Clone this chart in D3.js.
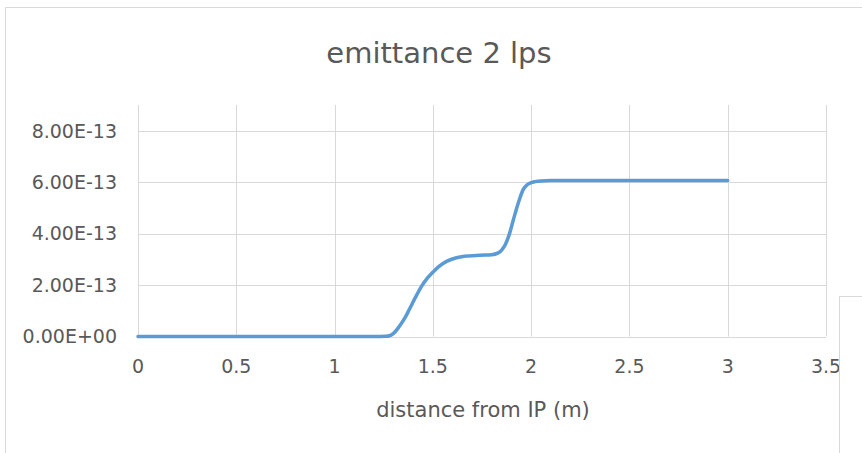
<!DOCTYPE html>
<html><head><meta charset="utf-8">
<script src="https://cdn.jsdelivr.net/npm/d3@7"></script>
<style>
html,body{margin:0;padding:0;background:#fff;}
svg{display:block;}
text{font-family:"DejaVu Sans",sans-serif;fill:#595959;}
</style></head>
<body>
<svg id="chart" width="862" height="453"></svg>
<script>
const chartTitle = "emittance 2 lps";
const xAxisTitle = "distance from IP (m)";
const xTicks = [0, 0.5, 1, 1.5, 2, 2.5, 3, 3.5];
const yTicks = [0, 2e-13, 4e-13, 6e-13, 8e-13];
const yTickLabels = ["0.00E+00", "2.00E-13", "4.00E-13", "6.00E-13", "8.00E-13"];
const distance = [0, 0.25, 0.5, 0.75, 1.0, 1.2, 1.26, 1.28, 1.3, 1.33, 1.36, 1.38, 1.41, 1.44, 1.47, 1.5, 1.53, 1.57, 1.62, 1.66, 1.74, 1.8, 1.83, 1.85, 1.87, 1.89, 1.91, 1.935, 1.96, 1.98, 2.0, 2.02, 2.05, 2.1, 2.2, 2.5, 2.75, 3.0];
const emittance = [0, 0, 0, 0, 0, 0.002e-13, 0.01e-13, 0.03e-13, 0.12e-13, 0.4e-13, 0.75e-13, 1.05e-13, 1.5e-13, 1.92e-13, 2.25e-13, 2.5e-13, 2.72e-13, 2.92e-13, 3.06e-13, 3.12e-13, 3.16e-13, 3.18e-13, 3.24e-13, 3.36e-13, 3.6e-13, 4.0e-13, 4.55e-13, 5.2e-13, 5.72e-13, 5.9e-13, 5.98e-13, 6.02e-13, 6.05e-13, 6.06e-13, 6.06e-13, 6.06e-13, 6.06e-13, 6.06e-13];

const svg = d3.select("#chart");
const W = 862, H = 453;
const plot = {left: 138, right: 826, top: 105, bottom: 336.5};

// outer frame
svg.append("path").attr("d", `M5.5,${H} L5.5,7.5 L${W},7.5`)
  .attr("fill","none").attr("stroke","#d9d9d9").attr("stroke-width",1);

const x = d3.scaleLinear().domain([0, 3.5]).range([plot.left, plot.right]);
const y = d3.scaleLinear().domain([0, 9e-13]).range([plot.bottom, plot.top]);

const g = svg.append("g");
// horizontal gridlines
g.selectAll(".hg").data(yTicks).enter().append("line")
  .attr("x1", plot.left).attr("x2", plot.right)
  .attr("y1", d => Math.round(y(d)) + 0.5).attr("y2", d => Math.round(y(d)) + 0.5)
  .attr("stroke", "#d9d9d9").attr("stroke-width", 1);
// vertical gridlines
g.selectAll(".vg").data(xTicks).enter().append("line")
  .attr("x1", d => Math.round(x(d)) + 0.5).attr("x2", d => Math.round(x(d)) + 0.5)
  .attr("y1", plot.top).attr("y2", plot.bottom)
  .attr("stroke", "#d9d9d9").attr("stroke-width", 1);

// y tick labels
g.selectAll(".yl").data(yTicks).enter().append("text")
  .attr("x", 117).attr("y", d => y(d)).attr("dy", "0.36em")
  .attr("text-anchor", "end").style("font-size", "19px")
  .text((d, i) => yTickLabels[i]);
// x tick labels
g.selectAll(".xl").data(xTicks).enter().append("text")
  .attr("x", d => x(d)).attr("y", 366).attr("dy", "0.36em")
  .attr("text-anchor", "middle").style("font-size", "19px")
  .text(d => String(d));

// line
const line = d3.line().x((d, i) => x(distance[i])).y(d => y(d)).curve(d3.curveMonotoneX);
svg.append("path").datum(emittance).attr("d", line)
  .attr("fill", "none").attr("stroke", "#5b9bd5").attr("stroke-width", 3.5)
  .attr("stroke-linejoin", "round").attr("stroke-linecap", "round");

// titles
svg.append("text").attr("x", 439).attr("y", 53).attr("dy", "0.36em")
  .attr("text-anchor", "middle").style("font-size", "29px").text(chartTitle);
svg.append("text").attr("x", 483).attr("y", 409).attr("dy", "0.36em")
  .attr("text-anchor", "middle").style("font-size", "21px").text(xAxisTitle);

// overlapping neighbouring frame at bottom right
svg.append("rect").attr("x", 839.5).attr("y", 296.5).attr("width", 40).attr("height", 200)
  .attr("fill", "#fff").attr("stroke", "#d9d9d9").attr("stroke-width", 1);
</script>
</body></html>
